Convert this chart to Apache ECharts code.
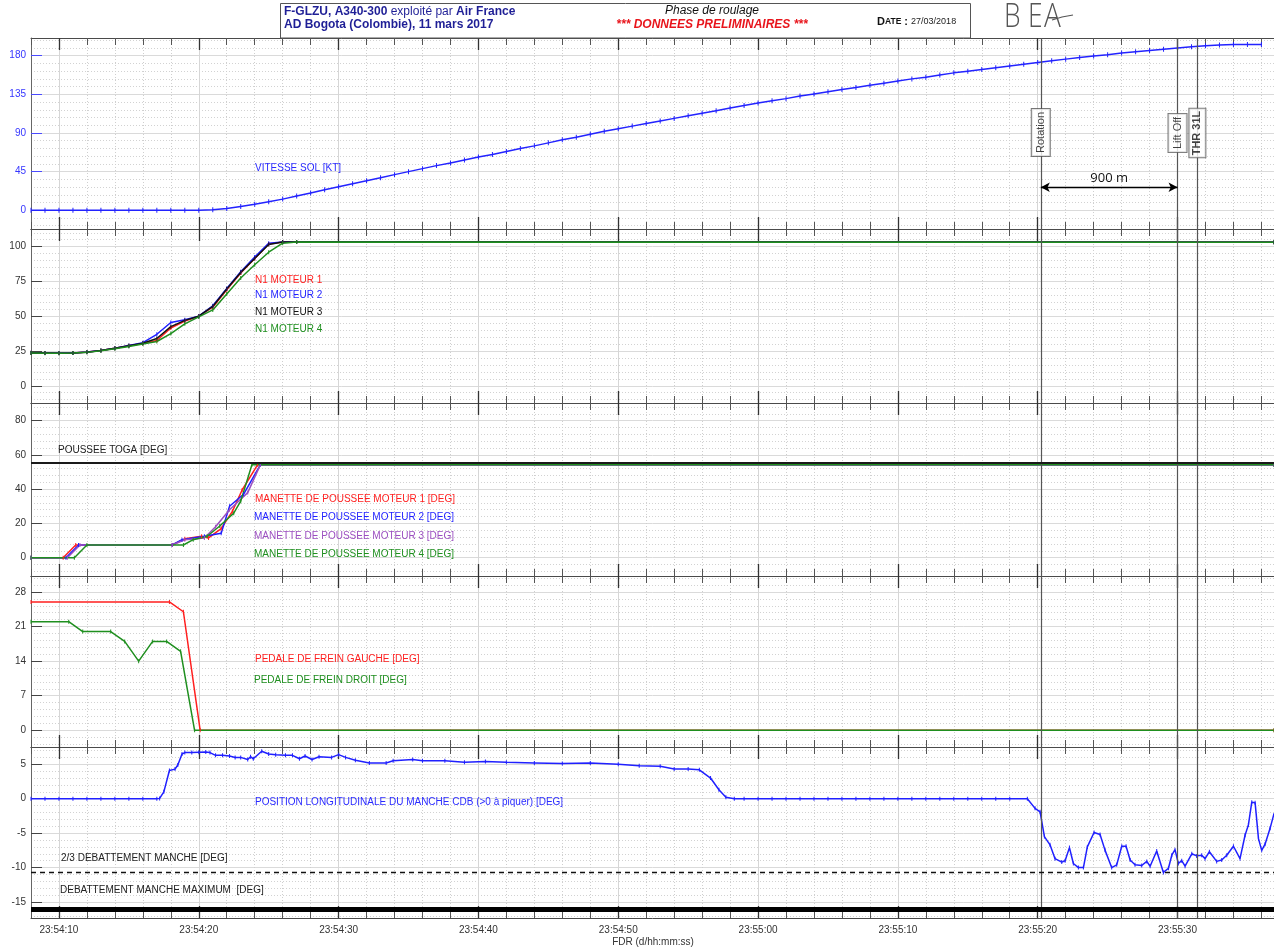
<!DOCTYPE html>
<html>
<head>
<meta charset="utf-8">
<title>F-GLZU A340-300 - Phase de roulage</title>
<script src="https://cdn.jsdelivr.net/npm/echarts@6/dist/echarts.min.js"></script>
<style>
  html, body { margin: 0; padding: 0; background: #ffffff; }
  #chart { width: 1274px; height: 952px; }
</style>
</head>
<body>
<div id="chart"></div>
<script>
// Time values are seconds after 23:54:00 (FDR clock).

// Ground speed [kt], one sample per second
const speedTime = [8,9,10,11,12,13,14,15,16,17,18,19,20,21,22,23,24,25,26,27,28,29,30,31,32,33,34,35,36,37,38,39,40,41,42,43,44,45,46,47,48,49,50,51,52,53,54,55,56,57,58,59,60,61,62,63,64,65,66,67,68,69,70,71,72,73,74,75,76,77,78,79,80,81,82,83,84,85,86,87,88,89,90,91,92,93,94,95,96];
const speedKt = [0,0,0,0,0,0,0,0,0,0,0,0,0,0.5,2,4.5,7,10,13,16.5,20,24,27.5,31,34.5,38,41.5,45,48.5,52,55,58.5,62,65,68.5,72,75,78.5,82,85,88.5,92,95,98,101,104,107,110,113,116,119,122,125,127.5,130,133,135.5,138,140.5,143,145.5,148,150.5,153,155,157.5,160,162,164,166,168,170,172,174,176,178,179.5,181,183,184.5,186,187.5,189,190.5,191.5,192.5,193,193,193];

// N1 of the four engines [%]
const n1Time = [8,9,10,11,12,13,14,15,16,17,18,19,20,21,22,23,24,25,26,27,96.9];
const n1Eng1 = [23.7,23.6,23.5,23.6,24.2,25.4,27.0,28.8,30.4,32.5,41.5,46.5,50.0,56.5,69.0,81.0,91.5,102.0,103.4,103.4,103.2];
const n1Eng2 = [23.8,23.6,23.5,23.6,24.2,25.4,27.0,28.9,31.0,37.0,45.5,47.5,50.0,57.5,70.0,82.0,92.5,102.5,103.4,103.4,103.2];
const n1Eng3 = [23.6,23.5,23.4,23.5,24.1,25.3,26.9,28.7,30.6,34.0,42.5,47.0,50.0,57.0,69.5,81.5,91.5,101.5,103.4,103.4,103.2];
const n1Eng4 = [23.5,23.4,23.4,23.5,24.0,25.1,26.6,28.3,30.0,31.8,37.5,44.5,49.5,54.5,66.0,77.5,87.0,96.0,102.5,103.4,103.2];

// Thrust lever angles [deg]
const thr1Time = [8,10.3,11.2,18.1,19.0,20.2,20.7,21.6,22.4,23.1,24.2,96.9];
const thr1Deg  = [0,0,7.4,7.4,11,12.5,11.5,17,27,39.5,54.2,54.2];
const thr2Time = [8,10.5,11.4,18.1,18.8,20.4,21.6,22.2,23.2,24.4,96.9];
const thr2Deg  = [0,0,7.4,7.4,10.5,12.5,14.2,30,37,54.2,54.2];
const thr3Time = [8,10.6,11.5,18.1,19.0,20.4,21.2,22.2,23.5,24.4,96.9];
const thr3Deg  = [0,0,7.4,7.4,10.5,11.5,18,28,38,54.2,54.2];
const thr4Time = [8,11.1,12.0,18.9,19.6,20.6,21.5,22.5,23.0,23.8,96.9];
const thr4Deg  = [0,0,7.4,7.4,10.5,12.5,18.5,26,33,54.2,54.2];
const togaDeg = 55.2;

// Brake pedals [deg]
const brakeLeftTime  = [8,17.9,18.9,20.1,96.9];
const brakeLeftDeg   = [26,26,24,0,0];
const brakeRightTime = [8,10.7,11.7,13.7,14.7,15.7,16.7,17.7,18.7,19.7,96.9];
const brakeRightDeg  = [22,22,20,20,18,14,18,18,16,0,0];

// Captain side-stick pitch position [deg] (>0 nose down)
const stickTime = [8,9,10,11,12,13,14,15,16,17,
  17.2,17.5,17.9,18.3,18.5,18.8,19,19.5,20,20.5,
  20.8,21.2,21.7,22.2,22.6,23,23.5,23.7,23.9,24.5,
  25,25.5,26.2,26.7,27.2,27.6,28.1,28.6,29.5,30,
  30.5,31.2,32.2,33.4,33.9,35.3,36,37.6,39,40.5,
  42,44,46,48,50,51.5,53,54,55,55.8,
  56.6,57.2,57.7,58.3,
  59,60,61,62,63,64,65,66,67,68,69,70,71,72,73,74,75,76,77,78,
  79.26,79.81,80.17,80.48,80.88,81.24,81.72,81.96,82.27,82.55,
  82.91,83.27,83.55,84.03,84.46,84.82,85.29,85.65,86.01,86.32,
  86.61,86.96,87.44,87.8,88.04,88.51,88.99,89.35,89.59,89.82,
  90.06,90.3,90.54,91.02,91.37,91.73,91.97,92.28,92.8,93.16,
  93.52,94,94.47,94.83,95.07,95.31,95.55,95.79,96.02,96.26,
  96.62,96.91];
const stickDeg = [0,0,0,0,0,0,0,0,0,0,
  0.05,1.0,4.1,4.3,4.9,6.5,6.7,6.7,6.75,6.8,
  6.7,6.3,6.3,6.2,6.0,6.0,5.7,6.1,5.8,6.9,
  6.5,6.4,6.3,6.3,5.8,6.2,5.7,6.1,6.0,6.4,
  6.0,5.6,5.2,5.2,5.5,5.7,5.5,5.5,5.3,5.4,
  5.3,5.2,5.1,5.2,5.0,4.8,4.7,4.3,4.3,4.2,
  3.0,1.3,0.2,0.0,
  0,0,0,0,0,0,0,0,0,0,0,0,0,0,0,0,0,0,0,0,
  0,-1.4,-1.9,-5.5,-6.7,-8.7,-9.2,-9.0,-7.1,-9.4,
  -10.0,-10.0,-7.0,-4.9,-5.2,-7.5,-10.0,-9.6,-6.9,-6.9,
  -8.9,-9.6,-9.7,-9.1,-9.8,-7.6,-10.7,-10.1,-8.2,-7.4,
  -9.4,-9.0,-9.8,-8.0,-8.3,-8.2,-8.7,-7.7,-9.1,-8.9,
  -8.2,-6.9,-8.7,-5.3,-3.8,-0.5,-0.6,-5.8,-7.5,-6.6,
  -4.3,-2.1];
const stickTwoThirdsDeg = -10.67;
const stickMaxDeg = -16;

// Events
const eventTimes = [80.22, 90.0, 91.42];
const eventNames = ['Rotation', 'Lift Off', 'THR 31L'];
const eventLabelKt = [90.6, 90, 90];
const rotationToLiftOff = { from: 80.22, to: 90.0, kt: 26.8, text: '900 m' };

// Axis ticks
const timeLabels = [10,20,30,40,50,60,70,80,90];
const yMajorTicks = [[0,45,90,135,180],[0,25,50,75,100],[0,20,40,60,80],[0,7,14,21,28],[-15,-10,-5,0,5]];
const yRanges = [[-21.8,200.6],[-12.4,112.7],[-10.7,90.3],[-3.38,31.24],[-17.32,7.51]];

// ---------------------------------------------------------------------------
const FONT = '"Liberation Sans", Arial, Helvetica, sans-serif';
const X_MIN = 8, X_MAX = 96.9;
const panelTops = [38, 229, 403, 576, 747];
const panelBottoms = [229, 403, 576, 747, 918];

const zip = (t, v) => t.map((x, i) => [x, v[i]]);
const clock = v => {
  const s = Math.round(v);
  return '23:' + (54 + Math.floor(s / 60)) + ':' + String(s % 60).padStart(2, '0');
};
function minorTicks(range, major) {
  const step = major / 5, out = [];
  for (let k = Math.ceil(range[0] / step); k <= Math.floor(range[1] / step); k++) {
    if (k % 5 !== 0) out.push(+(k * step).toFixed(4));
  }
  return out;
}
const yMajorStep = [45, 25, 20, 7, 5];

const grids = [], xAxes = [], yAxes = [];
for (let i = 0; i < 5; i++) {
  grids.push({ left: 31, right: 0, top: panelTops[i], height: panelBottoms[i] - panelTops[i] });
  const base = {
    type: 'value', gridIndex: i, min: X_MIN, max: X_MAX,
    axisLine: { show: true, onZero: false, lineStyle: { color: '#4a4a4a', width: 1 } },
    axisLabel: { show: false }, splitLine: { show: false }
  };
  // 2 s ticks + dotted grid
  xAxes.push(Object.assign({}, base, {
    position: 'bottom', interval: 2,
    axisTick: { show: true, inside: true, length: 7, lineStyle: { color: '#555' } },
    splitLine: { show: true, lineStyle: { color: '#cfcfcf', type: [1, 2] } }
  }));
  xAxes.push(Object.assign({}, base, {
    position: 'top', interval: 2,
    axisTick: { show: true, inside: true, length: 7, lineStyle: { color: '#555' } }
  }));
  // 10 s ticks + solid grid (+ time labels on the last panel)
  xAxes.push(Object.assign({}, base, {
    position: 'bottom',
    axisLine: { show: false, onZero: false },
    axisTick: { show: true, inside: true, length: 12, customValues: timeLabels, lineStyle: { color: '#333', width: 1.3 } },
    splitLine: { show: true, lineStyle: { color: '#d6d6d6', width: 1 } },
    axisLabel: i === 4
      ? { show: true, customValues: timeLabels, formatter: clock, color: '#333', fontSize: 10, fontFamily: FONT, margin: 7 }
      : { show: false }
  }));
  xAxes.push(Object.assign({}, base, {
    position: 'top',
    axisLine: { show: false, onZero: false },
    axisTick: { show: true, inside: true, length: 12, customValues: timeLabels, lineStyle: { color: '#333', width: 1.3 } }
  }));

  yAxes.push({
    type: 'value', gridIndex: i, position: 'left', min: yRanges[i][0], max: yRanges[i][1],
    axisLine: { show: true, onZero: false, lineStyle: { color: '#666' } },
    axisTick: { show: true, inside: true, length: 11, customValues: yMajorTicks[i],
      lineStyle: { color: i === 0 ? '#4b4bff' : '#444' } },
    axisLabel: { show: true, customValues: yMajorTicks[i], color: i === 0 ? '#3535ff' : '#333',
      fontSize: 10, fontFamily: FONT, margin: 5 },
    splitLine: { show: true, lineStyle: { color: '#dadada', width: 1 } }
  });
  yAxes.push({
    type: 'value', gridIndex: i, position: 'left', min: yRanges[i][0], max: yRanges[i][1],
    axisLine: { show: false, onZero: false },
    axisTick: { show: false, customValues: minorTicks(yRanges[i], yMajorStep[i]) },
    axisLabel: { show: false },
    splitLine: { show: true, lineStyle: { color: '#d2d2d2', type: [1, 2] } }
  });
}

const eventLines = eventTimes.map(t => ({ xAxis: t }));
const markLineBase = extra => ({
  silent: true, symbol: 'none', animation: false,
  label: { show: false },
  lineStyle: { color: '#555', width: 1.2, type: 'solid' },
  data: eventLines.concat(extra || [])
});

function trace(panel, name, color, t, v, extra) {
  return Object.assign({
    type: 'line', name: name, xAxisIndex: panel * 4, yAxisIndex: panel * 2,
    data: zip(t, v), symbol: 'rect', symbolSize: [1, 4], showSymbol: true,
    lineStyle: { color: color, width: 1.5 }, itemStyle: { color: color },
    silent: true, animation: false, z: 3
  }, extra || {});
}

const RED = '#ff1f1f', BLUE = '#1f1fff', BLACK = '#111111', GREEN = '#1f8f1f', PURPLE = '#9b4fc0';

const series = [
  trace(0, 'VITESSE SOL', '#2323ff', speedTime, speedKt, {
    symbolSize: [1, 5],
    markLine: markLineBase([[
      { coord: [rotationToLiftOff.from, rotationToLiftOff.kt], symbol: 'arrow', symbolSize: [7, 9] },
      { coord: [rotationToLiftOff.to, rotationToLiftOff.kt], symbol: 'arrow', symbolSize: [7, 9],
        lineStyle: { color: '#000', width: 1.3 },
        label: { show: true, position: 'middle', formatter: rotationToLiftOff.text, color: '#111',
          fontSize: 13, fontFamily: '"Open Sans", "DejaVu Sans", sans-serif', distance: 2 } }
    ]])
  }),
  {
    type: 'scatter', xAxisIndex: 0, yAxisIndex: 0, symbolSize: 0, silent: true, animation: false, z: 6,
    data: eventTimes.map((t, i) => ({
      name: eventNames[i], value: [t, eventLabelKt[i]],
      label: i === 2 ? { fontWeight: 'bold', padding: [3, 2, 2, 2] } : {}
    })),
    label: {
      show: true, position: 'inside', rotate: 90, formatter: '{b}',
      backgroundColor: '#fff', borderColor: '#555', borderWidth: 1, padding: [4, 3, 3, 3],
      color: '#111', fontSize: 11, fontFamily: FONT
    }
  },
  trace(1, 'N1 MOTEUR 1', RED, n1Time, n1Eng1, { markLine: markLineBase() }),
  trace(1, 'N1 MOTEUR 2', BLUE, n1Time, n1Eng2),
  trace(1, 'N1 MOTEUR 3', BLACK, n1Time, n1Eng3),
  trace(1, 'N1 MOTEUR 4', GREEN, n1Time, n1Eng4),
  trace(2, 'MANETTE 1', RED, thr1Time, thr1Deg, {
    markLine: markLineBase([{ yAxis: togaDeg, lineStyle: { color: '#1a1a1a', width: 2, type: 'solid' } }])
  }),
  trace(2, 'MANETTE 2', BLUE, thr2Time, thr2Deg),
  trace(2, 'MANETTE 3', PURPLE, thr3Time, thr3Deg),
  trace(2, 'MANETTE 4', GREEN, thr4Time, thr4Deg),
  trace(3, 'PEDALE GAUCHE', RED, brakeLeftTime, brakeLeftDeg, { markLine: markLineBase() }),
  trace(3, 'PEDALE DROIT', GREEN, brakeRightTime, brakeRightDeg),
  trace(4, 'MANCHE CDB', '#2020ff', stickTime, stickDeg, {
    markLine: markLineBase([
      { yAxis: stickTwoThirdsDeg, lineStyle: { color: '#111', width: 1.3, type: [5, 4] } },
      { yAxis: stickMaxDeg, lineStyle: { color: '#000', width: 5, type: 'solid' } }
    ])
  })
];

function label(text, x, y, color, extra) {
  return Object.assign({
    type: 'text', x: x, y: y, silent: true, z: 20,
    style: { text: text, fill: color, font: '10px ' + FONT, align: 'left', verticalAlign: 'middle' }
  }, extra || {});
}

const LOGO_FONT = '300 33px "Open Sans", "DejaVu Sans", sans-serif';
const graphics = [
  // header box
  { type: 'rect', silent: true, z: 10, shape: { x: 280.5, y: 3.5, width: 690, height: 34.5 },
    style: { fill: '#fff', stroke: '#555', lineWidth: 1 } },
  { type: 'text', x: 284, y: 11.5, silent: true, z: 20,
    style: { text: '{b|F-GLZU, A340-300} {n|exploité par} {b|Air France}', verticalAlign: 'middle', align: 'left',
      rich: { b: { fontWeight: 'bold', fontSize: 12, fontFamily: FONT, fill: '#1f1f96', color: '#1f1f96' },
              n: { fontSize: 12, fontFamily: FONT, fill: '#1f1f96', color: '#1f1f96' } } } },
  label('AD Bogota (Colombie), 11 mars 2017', 284, 24.5, '#1f1f96', { style: {
    text: 'AD Bogota (Colombie), 11 mars 2017', fill: '#1f1f96', font: 'bold 12px ' + FONT,
    align: 'left', verticalAlign: 'middle' } }),
  label('Phase de roulage', 712, 11, '#111', { style: {
    text: 'Phase de roulage', fill: '#111', font: 'italic 12px ' + FONT, align: 'center', verticalAlign: 'middle' } }),
  label('*** DONNEES PRELIMINAIRES ***', 712, 25, '#e8141b', { style: {
    text: '*** DONNEES PRELIMINAIRES ***', fill: '#e8141b', font: 'italic bold 12px ' + FONT,
    align: 'center', verticalAlign: 'middle' } }),
  { type: 'text', x: 877, y: 21.5, silent: true, z: 20,
    style: { text: '{d|D}{s|ATE}{d| : }{v|27/03/2018}', verticalAlign: 'middle', align: 'left',
      rich: { d: { fontWeight: 'bold', fontSize: 11, fontFamily: FONT, fill: '#111', color: '#111' },
              s: { fontWeight: 'bold', fontSize: 8.5, fontFamily: FONT, fill: '#111', color: '#111' },
              v: { fontSize: 9, fontFamily: FONT, fill: '#222', color: '#222' } } } },
  // BEA wordmark
  { type: 'text', x: 1004, y: 18, scaleX: 0.8, silent: true, z: 20,
    style: { text: 'B', fill: '#555', font: LOGO_FONT, verticalAlign: 'middle' } },
  { type: 'text', x: 1028, y: 18, scaleX: 0.8, silent: true, z: 20,
    style: { text: 'E', fill: '#555', font: LOGO_FONT, verticalAlign: 'middle' } },
  { type: 'text', x: 1044, y: 18, scaleX: 0.85, silent: true, z: 20,
    style: { text: 'A', fill: '#555', font: LOGO_FONT, verticalAlign: 'middle' } },
  { type: 'polyline', silent: true, z: 20, shape: { points: [[1052, 20], [1062, 17], [1073, 15]] },
    style: { stroke: '#555', lineWidth: 1.2, fill: null } },

  // panel captions
  label('VITESSE SOL [KT]', 255, 168, '#2b2bff'),
  label('N1 MOTEUR 1', 255, 280, RED),
  label('N1 MOTEUR 2', 255, 295, BLUE),
  label('N1 MOTEUR 3', 255, 312, BLACK),
  label('N1 MOTEUR 4', 255, 329.5, GREEN),
  label('POUSSEE TOGA [DEG]', 58, 450, '#222'),
  label('MANETTE DE POUSSEE MOTEUR 1 [DEG]', 255, 499.5, RED),
  label('MANETTE DE POUSSEE MOTEUR 2 [DEG]', 254, 517, BLUE),
  label('MANETTE DE POUSSEE MOTEUR 3 [DEG]', 254, 536, PURPLE),
  label('MANETTE DE POUSSEE MOTEUR 4 [DEG]', 254, 554.5, GREEN),
  label('PEDALE DE FREIN GAUCHE [DEG]', 255, 659, RED),
  label('PEDALE DE FREIN DROIT [DEG]', 254, 680.5, GREEN),
  label('POSITION LONGITUDINALE DU MANCHE CDB (>0 à piquer) [DEG]', 255, 802.5, '#2b2bff'),
  label('2/3 DEBATTEMENT MANCHE [DEG]', 61, 858, '#222'),
  label('DEBATTEMENT MANCHE MAXIMUM  [DEG]', 60, 890, '#222'),
  label('FDR (d/hh:mm:ss)', 653, 942, '#333', { style: {
    text: 'FDR (d/hh:mm:ss)', fill: '#333', font: '10px ' + FONT, align: 'center', verticalAlign: 'middle' } })
];

const chart = echarts.init(document.getElementById('chart'), null, { renderer: 'canvas' });
chart.setOption({
  backgroundColor: '#ffffff',
  animation: false,
  textStyle: { fontFamily: FONT },
  grid: grids,
  xAxis: xAxes,
  yAxis: yAxes,
  series: series,
  graphic: graphics
});
</script>
</body>
</html>
